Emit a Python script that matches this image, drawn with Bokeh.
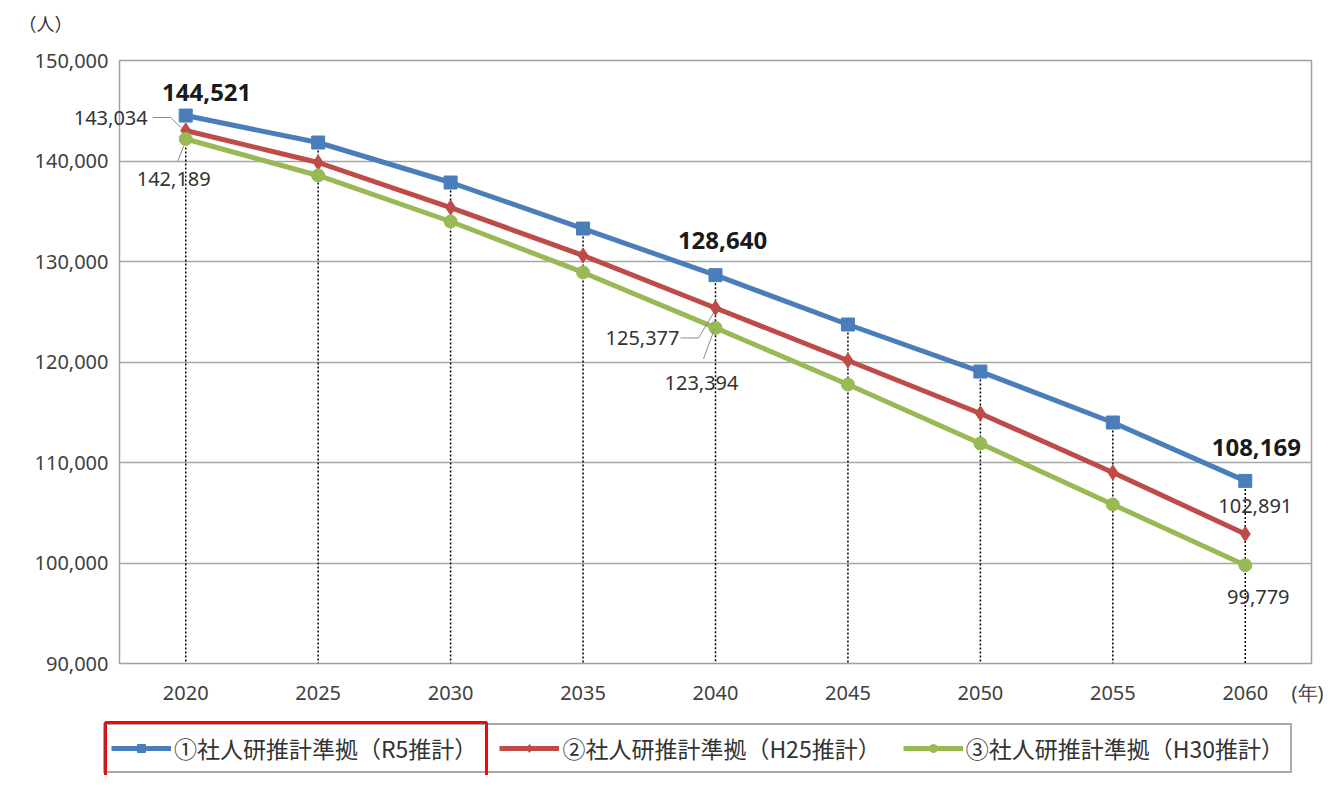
import math
from bokeh.plotting import figure
from bokeh.models import (Label, Legend, LegendItem, FixedTicker, NumeralTickFormatter,
                          Range1d, BoxAnnotation, CustomJSTickFormatter)
from bokeh.embed import file_html
from bokeh.resources import INLINE

years = [2020, 2025, 2030, 2035, 2040, 2045, 2050, 2055, 2060]
r5 = [144521, 141840, 137860, 133280, 128640, 123730, 119050, 113980, 108169]
h25 = [143034, 139850, 135370, 130600, 125377, 120150, 114880, 109000, 102891]
h30 = [142189, 138560, 133980, 128910, 123394, 117760, 111890, 105820, 99779]
y_ticks = [90000, 100000, 110000, 120000, 130000, 140000, 150000]
names = ["①社人研推計準拠（R5推計）", "②社人研推計準拠（H25推計）", "③社人研推計準拠（H30推計）"]
colors = ["#4A7EBB", "#BE4B48", "#98B954"]
unit_y = "（人）"
unit_x = "(年)"

X0, X1 = 2017.5, 2062.5
Y0, Y1 = 90000, 150000
W = 1323
FW, FH = 1192, 603
px_x = (X1 - X0) / FW
px_y = (Y1 - Y0) / FH

NUM_FONT = "Noto Sans"
JP_FONT = "Noto Sans CJK JP"

H1 = 720
p = figure(width=W, height=H1, output_backend="svg", toolbar_location=None,
           x_range=Range1d(X0, X1), y_range=Range1d(Y0, Y1),
           min_border_left=119, min_border_right=12, min_border_top=60,
           min_border_bottom=H1 - 60 - FH)
p.title.visible = False
p.background_fill_color = "white"
p.border_fill_color = "white"
p.outline_line_color = "#A0A0A0"
p.outline_line_width = 1.5

p.xgrid.visible = False
p.ygrid.grid_line_color = "#A6A6A6"
p.ygrid.grid_line_width = 1.5
p.yaxis.ticker = FixedTicker(ticks=y_ticks)
p.yaxis.formatter = NumeralTickFormatter(format="0,0")
unit_tick = X1
p.xaxis.ticker = FixedTicker(ticks=years + [unit_tick])
p.xaxis.formatter = CustomJSTickFormatter(
    args=dict(unit=unit_x),
    code="return tick > 2061 ? unit : tick.toFixed(0);")
for ax in (p.xaxis, p.yaxis):
    ax.axis_line_color = None
    ax.major_tick_line_color = None
    ax.minor_tick_line_color = None
    ax.major_tick_out = 0
    ax.major_tick_in = 0
    ax.major_label_text_font = NUM_FONT
    ax.major_label_text_font_size = "20px"
    ax.major_label_text_color = "#404040"
p.yaxis.major_label_standoff = 11
p.xaxis.major_label_standoff = 15

# drop lines from the highest series to the axis
tops = [max(a, b, c) for a, b, c in zip(r5, h25, h30)]
p.segment(x0=years, y0=tops, x1=years, y1=[Y0] * len(years),
          line_color="black", line_width=1.5, line_dash="2 2")

series = [r5, h25, h30]
markers = ["square", "diamond", "circle"]
sizes = [13, 15, 13]
for vals, col, mk, sz in zip(series, colors, markers, sizes):
    p.line(years, vals, line_color=col, line_width=5)
    p.scatter(years, vals, marker=mk, size=sz, fill_color=col, line_color=col)

# leader lines (pixel offsets from the data points)
def leader(xv, yv, pts):
    xs = [xv + dx * px_x for dx, dy in pts]
    ys = [yv - dy * px_y for dx, dy in pts]
    p.line(xs, ys, line_color="#8C8C8C", line_width=1)

leader(years[0], h25[0], [(-33, -13), (-15, -13), (-5, -3)])
leader(years[0], h30[0], [(-8, 22), (-2, 7)])
leader(years[4], h25[4], [(-35, 30), (-17, 30), (-2, 5)])
leader(years[4], h30[4], [(-12, 31), (-1, 1)])

def mk_label(xv, yv, txt, dx, dy, bold=False, align="center", font=NUM_FONT, size=None):
    return Label(x=xv, y=yv, text=txt, x_offset=dx, y_offset=-dy,
                 text_align=align, text_baseline="middle",
                 text_font=font,
                 text_font_size=size or ("24px" if bold else "20px"),
                 text_font_style="bold" if bold else "normal",
                 text_color="#1A1A1A" if bold else "#333333")

def fmt(v):
    return f"{v:,}"

p.add_layout(mk_label(years[0], r5[0], fmt(r5[0]), 21, -23, bold=True))
p.add_layout(mk_label(years[0], h30[0], fmt(h30[0]), -12, 40))
p.add_layout(mk_label(years[4], r5[4], fmt(r5[4]), 7, -35, bold=True))
p.add_layout(mk_label(years[4], h25[4], fmt(h25[4]), -36, 30, align="right"))
p.add_layout(mk_label(years[4], h30[4], fmt(h30[4]), -14, 55))
p.add_layout(mk_label(years[8], r5[8], fmt(r5[8]), 11, -33, bold=True))
p.add_layout(mk_label(years[8], h25[8], fmt(h25[8]), 10, -28))
p.add_layout(mk_label(years[8], h30[8], fmt(h30[8]), 13, 32))

# labels reaching outside the frame live in the top panel (not clipped)
p.add_layout(mk_label(years[0], h25[0], fmt(h25[0]), -38, -13, align="right"), "above")
p.add_layout(mk_label(X0, Y1, unit_y, -74, -38, font=JP_FONT, size="18px"), "above")

# ---- legend strip (separate root, no frame alignment) ----
H2 = 775 - H1
q = figure(width=W, height=H2, output_backend="svg", toolbar_location=None,
           x_range=Range1d(0, W), y_range=Range1d(0, H2),
           x_axis_location=None, y_axis_location=None,
           min_border_left=0, min_border_right=0, min_border_top=0, min_border_bottom=0)
q.title.visible = False
q.grid.visible = False
q.outline_line_color = None
q.background_fill_color = "white"
q.border_fill_color = "white"

items = []
nan = [math.nan]
for col, mk, sz, nm in zip(colors, markers, sizes, names):
    l = q.line(nan, nan, line_color=col, line_width=5)
    s = q.scatter(nan, nan, marker=mk, size=sz, fill_color=col, line_color=col)
    items.append(LegendItem(label=nm, renderers=[l, s]))

legend = Legend(items=items, orientation="horizontal", location=(103, 2),
                label_text_font=JP_FONT, label_text_font_size="23px",
                label_text_color="#333333", glyph_width=60, glyph_height=20,
                label_standoff=3, spacing=22, padding=6, margin=0,
                border_line_color="#555555", border_line_width=2,
                background_fill_color=None, background_fill_alpha=0)
q.add_layout(legend, "center")

q.add_layout(BoxAnnotation(left=105, right=486, top=H2 - 2, bottom=-10,
                           fill_color=None, fill_alpha=0,
                           line_color="#FF0000", line_alpha=1, line_width=3,
                           level="overlay"))

open("out.html", "w").write(file_html([p, q], INLINE))
